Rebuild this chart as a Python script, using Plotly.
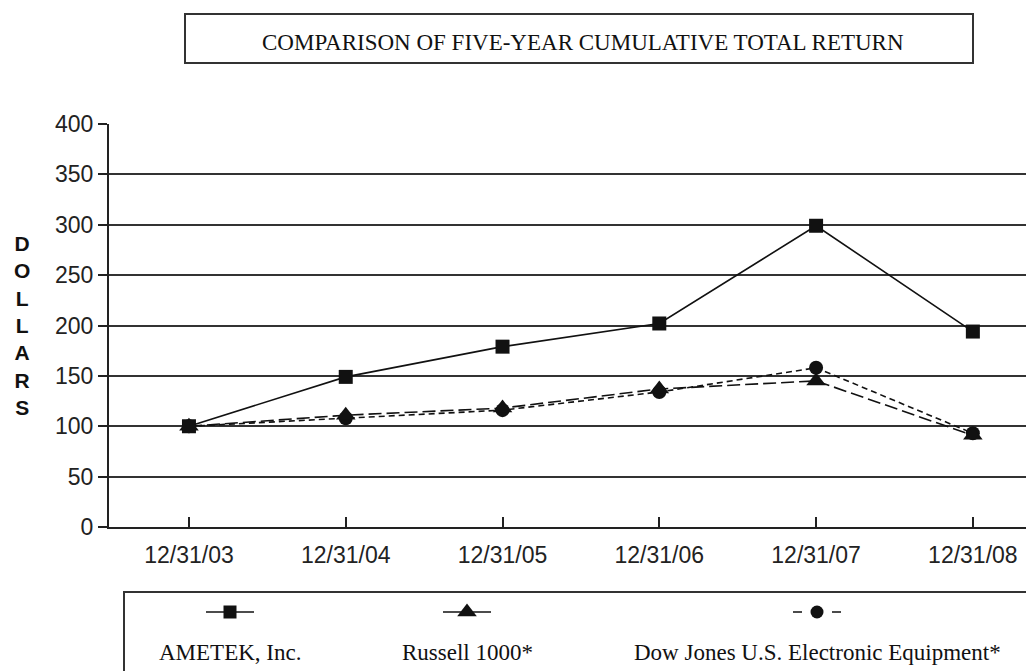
import plotly.graph_objects as go

# ---- data ----
dates = ["12/31/03", "12/31/04", "12/31/05", "12/31/06", "12/31/07", "12/31/08"]
ametek = [100, 149, 179, 202, 299, 194]
russell = [100, 111, 118, 137, 145, 91]
dowjones = [100, 108, 116, 134, 158, 93]
series_names = ["AMETEK, Inc.", "Russell 1000*", "Dow Jones U.S. Electronic Equipment*"]
y_ticks = [0, 50, 100, 150, 200, 250, 300, 350, 400]
title_text = "COMPARISON OF FIVE-YEAR CUMULATIVE TOTAL RETURN"
y_title = "DOLLARS"

OFF = 8  # page body margin
W, H = 1034 - OFF, 671 - OFF
PL, PR, PT, PB = 109, 1034, 124, 527  # plot area in page pixels


def px(x):
    return (x - OFF) / W


def py(y):
    return 1 - (y - OFF) / H


fig = go.Figure()

fig.add_trace(go.Scatter(x=dates, y=dowjones, mode="lines+markers", name=series_names[2],
                         line=dict(color="#111", width=1.6, dash="6px,4px"),
                         marker=dict(symbol="circle", size=14, color="#111"),
                         showlegend=False))
fig.add_trace(go.Scatter(x=dates, y=russell, mode="lines+markers", name=series_names[1],
                         line=dict(color="#111", width=1.6, dash="13px,5px"),
                         marker=dict(symbol="triangle-up", size=17, color="#111"),
                         showlegend=False))
fig.add_trace(go.Scatter(x=dates, y=ametek, mode="lines+markers", name=series_names[0],
                         line=dict(color="#111", width=1.6),
                         marker=dict(symbol="square", size=14, color="#111"),
                         showlegend=False))

# legend glyphs drawn on a pixel overlay axis (page pixel coordinates)
leg_cx = [230, 467, 817]
leg_sym = ["square", "triangle-up", "circle"]
leg_dash = ["solid", "solid", "9px,30px"]
leg_size = [13, 17, 13]
leg_y = 612
for cx, sym, d, s, nm in zip(leg_cx, leg_sym, leg_dash, leg_size, series_names):
    fig.add_trace(go.Scatter(x=[cx - 24, cx + 24], y=[leg_y] * 2, mode="lines",
                             xaxis="x2", yaxis="y2", showlegend=False,
                             line=dict(color="#111", width=1.6, dash=d), hoverinfo="skip"))
    fig.add_trace(go.Scatter(x=[cx], y=[leg_y], mode="markers",
                             xaxis="x2", yaxis="y2", name=nm, showlegend=False,
                             marker=dict(symbol=sym, size=s, color="#111"), hoverinfo="skip"))
    fig.add_annotation(x=px(cx), y=py(652), xref="paper", yref="paper", text=nm,
                       showarrow=False, xanchor="center", yanchor="middle",
                       font=dict(family="Liberation Serif, Times New Roman, serif", size=23, color="#111"))

tickfont = dict(family="Liberation Sans, Arial, sans-serif", size=23, color="#222")
fig.update_layout(
    width=W, height=H,
    margin=dict(l=0, r=0, t=0, b=0),
    paper_bgcolor="white", plot_bgcolor="rgba(0,0,0,0)",
    showlegend=False,
    xaxis=dict(domain=[px(PL), px(PR)], type="category", range=[-0.51, 5.39],
               showgrid=False, showline=True, linecolor="#222", linewidth=2,
               ticks="inside", ticklen=10, tickwidth=1.5, tickcolor="#222",
               tickfont=tickfont, ticklabelstandoff=6, automargin=False,
               zeroline=False, fixedrange=True),
    yaxis=dict(domain=[py(PB), py(PT)], range=[0, 400], tickvals=y_ticks,
               showgrid=True, gridcolor="#333", gridwidth=1.8,
               showline=True, linecolor="#222", linewidth=2,
               ticks="outside", ticklen=9, tickwidth=1.5, tickcolor="#222",
               tickfont=tickfont, ticklabelstandoff=0, automargin=False,
               zeroline=False, fixedrange=True),
    xaxis2=dict(domain=[0, 1], range=[OFF, OFF + W], visible=False, anchor="y2", fixedrange=True),
    yaxis2=dict(domain=[0, 1], range=[OFF + H, OFF], visible=False, anchor="x2", fixedrange=True),
)

# title box
fig.add_shape(type="rect", xref="paper", yref="paper",
              x0=px(185), x1=px(973), y0=py(14), y1=py(63),
              line=dict(color="#333", width=2))
fig.add_annotation(x=px(583), y=py(42), xref="paper", yref="paper", text=title_text,
                   showarrow=False, xanchor="center", yanchor="middle",
                   font=dict(family="Liberation Serif, Times New Roman, serif", size=23, color="#111"))

# legend box
fig.add_shape(type="rect", xref="paper", yref="paper",
              x0=px(124), x1=px(1040), y0=py(592), y1=py(690),
              line=dict(color="#333", width=2))

# vertical y-axis title
fig.add_annotation(x=px(22), y=py(325), xref="paper", yref="paper",
                   text="<b>" + "<br>".join(list(y_title)) + "</b>", showarrow=False,
                   xanchor="center", yanchor="middle",
                   font=dict(family="Liberation Sans, Arial, sans-serif", size=21, color="#111"))

fig.write_html("out.html")
